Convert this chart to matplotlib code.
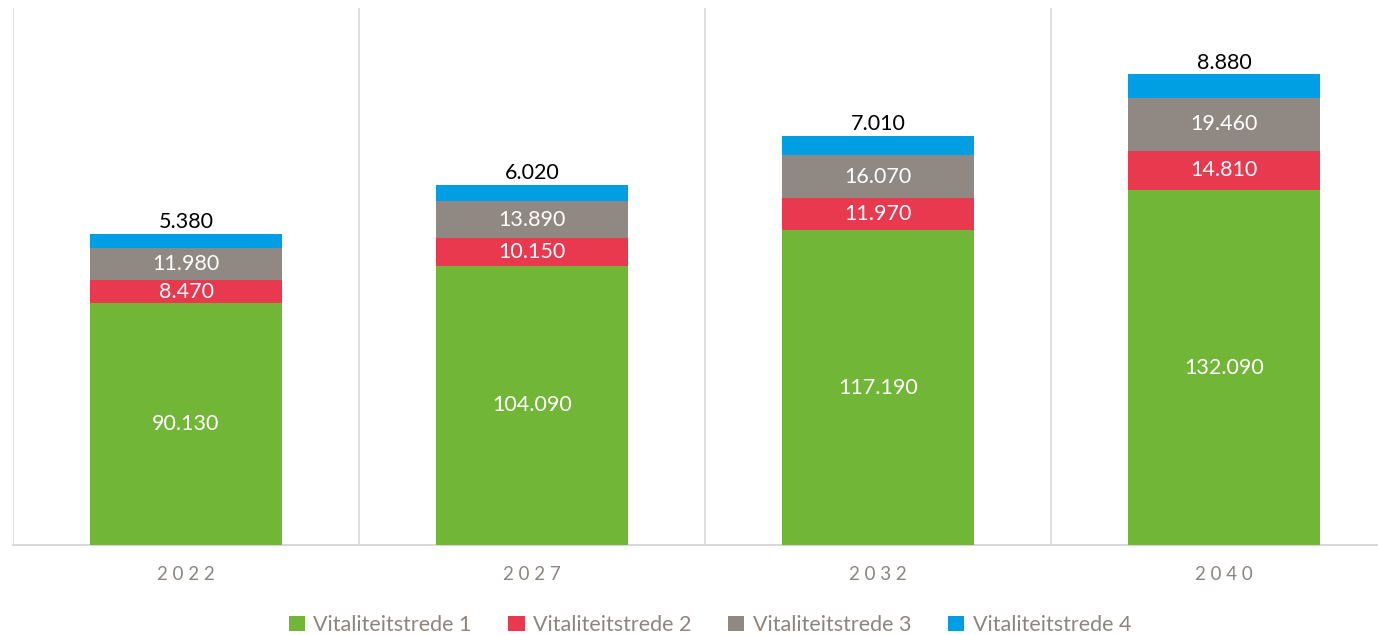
import matplotlib
matplotlib.use("Agg")
import matplotlib.pyplot as plt
from matplotlib.patches import Patch

categories = ["2022", "2027", "2032", "2040"]
stage1 = [90130, 104090, 117190, 132090]
stage2 = [8470, 10150, 11970, 14810]
stage3 = [11980, 13890, 16070, 19460]
stage4 = [5380, 6020, 7010, 8880]
series_names = ["Vitaliteitstrede 1", "Vitaliteitstrede 2", "Vitaliteitstrede 3", "Vitaliteitstrede 4"]
colors = ["#72B637", "#E8394F", "#908882", "#009FE3"]

plt.rcParams['font.family'] = ['Lato', 'DejaVu Sans']

fig = plt.figure(figsize=(13.78, 6.35), dpi=100)
W, H = 1378, 635
ax = fig.add_axes([13 / W, (H - 545) / H, (1397 - 13) / W, (545 - 8) / H])

def fmt(v):
    return f"{v:,}".replace(",", ".")

x = list(range(len(categories)))
bottoms = [0] * len(categories)
all_series = [stage1, stage2, stage3, stage4]
for si, (vals, col) in enumerate(zip(all_series, colors)):
    ax.bar(x, vals, bottom=bottoms, width=192 / 346, color=col, zorder=3)
    for i, v in enumerate(vals):
        if si < 3:
            ax.text(x[i], bottoms[i] + v / 2, fmt(v), ha='center', va='center',
                    color='white', fontsize=15.5, zorder=4)
        else:
            ax.text(x[i], bottoms[i] + v + 700, fmt(v), ha='center', va='bottom',
                    color='black', fontsize=15.5, zorder=4)
    bottoms = [b + v for b, v in zip(bottoms, vals)]

ax.set_xlim(-0.5, 3.5)
ax.set_ylim(0, 200000)
for b in [-0.5, 0.5, 1.5, 2.5, 3.5]:
    ax.axvline(b, color='#D9D9D9', lw=1.2, zorder=1)
for s in ['top', 'right', 'left']:
    ax.spines[s].set_visible(False)
ax.spines['bottom'].set_color('#D9D9D9')
ax.spines['bottom'].set_linewidth(1.5)
ax.set_yticks([])
ax.set_xticks(x)
ax.set_xticklabels([" ".join(c) for c in categories], color='#8C8580', fontsize=13.5)
ax.tick_params(axis='x', length=0, pad=15)

handles = [Patch(facecolor=c, edgecolor='none') for c in colors]
fig.legend(handles, series_names, loc='center', bbox_to_anchor=(710 / W, 1 - 625 / H),
           ncol=4, frameon=False, fontsize=15.5, labelcolor='#8C8580',
           handlelength=0.75, handleheight=0.75, handletextpad=0.4, columnspacing=1.7)

fig.savefig("out.png", dpi=100)
